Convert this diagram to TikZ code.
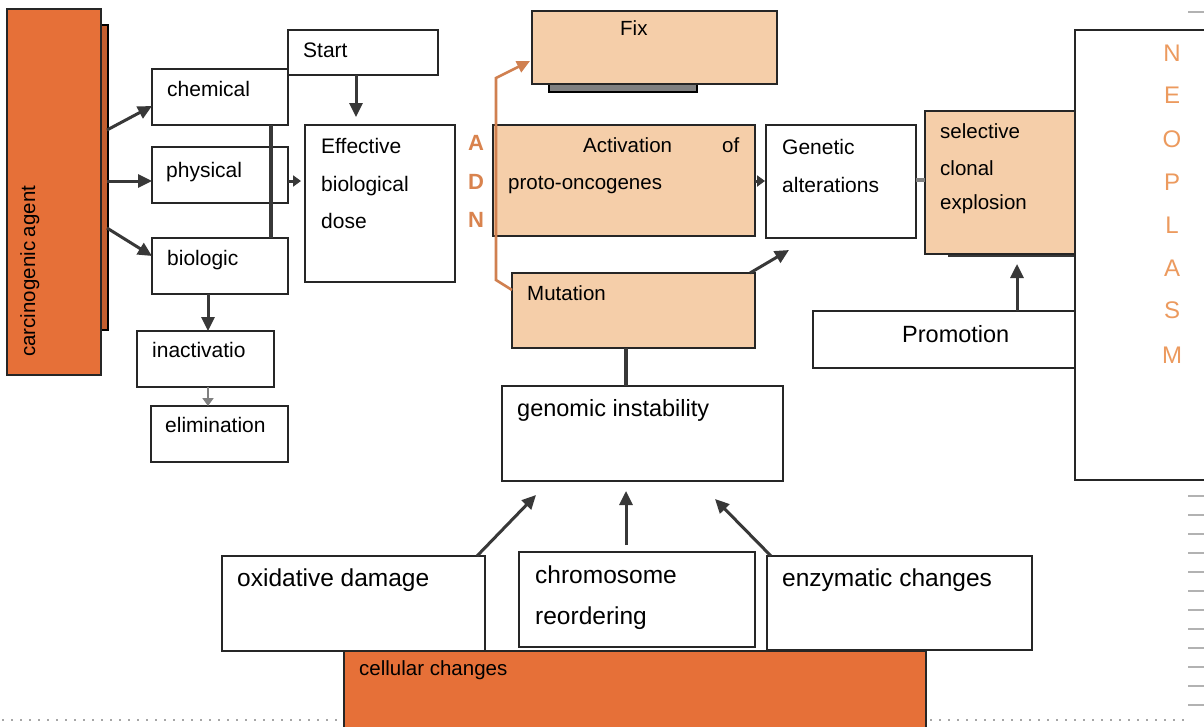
\documentclass[tikz,border=0pt]{standalone}
\usepackage{fontspec}
\setmainfont{Liberation Sans}
\usetikzlibrary{arrows.meta}
\definecolor{orng}{HTML}{E67038}
\definecolor{peach}{HTML}{F5CEA9}
\definecolor{adn}{HTML}{D9834E}
\definecolor{neo}{HTML}{EC9A5E}
\definecolor{conn}{HTML}{383838}
\definecolor{oconn}{HTML}{D08050}
\newcommand\fsz[1]{\fontsize{#1}{#1}\selectfont}
\newcommand\bx[6]{\node[#6, minimum width={#4-#2}, minimum height={#5-#3}] (#1) at ({(#2+#4)/2},{(#3+#5)/2}) {};}
\tikzset{
  box/.style={draw=black!85, line width=1.7pt, fill=white, inner sep=0pt, outer sep=0pt},
  pbox/.style={box, fill=peach},
  obox/.style={box, fill=orng},
  lbl/.style={anchor=base west, inner sep=0pt, font=\fsz{21}},
  blbl/.style={anchor=base west, inner sep=0pt, font=\fsz{24.5}},
  arr/.style={-{Triangle[length=14pt,width=13pt]}, line width=3pt, draw=conn},
  sarr/.style={-{Triangle[length=8pt,width=11pt]}, line width=3pt, draw=conn},
  ln/.style={line width=3.5pt, draw=conn},
  oarr/.style={-{Triangle[length=13pt,width=12pt]}, line width=2.6pt, draw=oconn},
}
\begin{document}
\begin{tikzpicture}[x=1pt,y=-1pt]
\clip (0,0) rectangle (1204,726);
\fill[white] (0,0) rectangle (1204,726);
% page artefacts
\draw[gray!70, line width=1.5pt, dash pattern=on 1.5pt off 7.5pt] (2,720) -- (340,720);
\draw[gray!70, line width=1.5pt, dash pattern=on 1.5pt off 7.5pt] (930,720) -- (1190,720);
\foreach \yy in {496,515,534,553,572,591,610,629,648,667,686,705}{
  \draw[gray!60, line width=1.2pt] (1188,\yy) -- (1204,\yy);}
\draw[gray!60, line width=1.2pt] (1188,12) -- (1204,12);
% shadows
\draw[line width=1.6pt, fill=orng!85!black] (13,25) rectangle (108,330);
\draw[line width=1.6pt, fill=gray] (549,84) rectangle (697,92);
\draw[line width=2pt, conn] (948,256) -- (1075,256);
% boxes
\bx{agent}{7}{9}{101}{375}{obox}
\bx{neoplasm}{1075}{30}{1230}{480}{box}
\bx{chem}{152}{69}{288}{125}{box}
\bx{phys}{152}{147}{288}{203}{box}
\bx{bio}{152}{238}{288}{294}{box}
\bx{start}{288}{30}{438}{75}{box}
\bx{eff}{305}{125}{455}{282}{box}
\bx{inact}{137}{331}{274}{387}{box}
\bx{elim}{151}{406}{288}{462}{box}
\bx{fix}{532}{11}{777}{84}{pbox}
\bx{act}{493}{125}{755}{236}{pbox}
\bx{gen}{766}{125}{916}{238}{box}
\bx{sel}{925}{111}{1075}{254}{pbox}
\bx{prom}{813}{311}{1075}{368}{box}
\bx{mut}{512}{273}{755}{348}{pbox}
\bx{geno}{502}{386}{783}{481}{box}
\bx{oxi}{222}{556}{485}{651}{box}
\bx{chrom}{519}{552}{755}{647}{box}
\bx{enz}{767}{556}{1032}{650}{box}
\bx{cell}{344}{651}{926}{740}{obox}
% texts
\node[anchor=base west, inner sep=0pt, font=\fsz{20.5}, rotate=90] (tagent) at (35,357) {carcinogenic\kern-1pt\ agent};
\node[lbl] (tchem) at (167,96) {chemical};
\node[lbl] (tphys) at (166,177) {physical};
\node[lbl] (tbio) at (167,265) {biologic};
\node[lbl] (tstart) at (303,57) {Start};
\node[lbl] (teff1) at (321,153) {Effective};
\node[lbl] (teff2) at (321,191) {biological};
\node[lbl] (teff3) at (321,228) {dose};
\node[lbl] (tinact) at (152,357) {inactivatio};
\node[lbl] (telim) at (165,432) {elimination};
\node[anchor=base, inner sep=0pt, font=\fsz{22}\bfseries, text=adn] (ta) at (476,150) {A};
\node[anchor=base, inner sep=0pt, font=\fsz{22}\bfseries, text=adn] (td) at (476,189) {D};
\node[anchor=base, inner sep=0pt, font=\fsz{22}\bfseries, text=adn] (tn) at (476,227) {N};
\node[lbl, font=\fsz{20.5}] (tfix) at (620,35) {Fix};
\node[lbl, font=\fsz{20.5}] (tact1) at (583,152) {Activation};
\node[lbl, font=\fsz{20.5}] (tact2) at (722,152) {of};
\node[lbl, font=\fsz{20.5}] (tact3) at (508,189) {proto-oncogenes};
\node[lbl] (tgen1) at (782,154) {Genetic};
\node[lbl] (tgen2) at (782,192) {alterations};
\node[lbl, font=\fsz{20.5}] (tsel1) at (940,138) {selective};
\node[lbl, font=\fsz{20.5}] (tsel2) at (940,175) {clonal};
\node[lbl, font=\fsz{20.5}] (tsel3) at (940,209) {explosion};
\foreach \L/\yy [count=\i] in {N/61,E/103,O/147,P/190,L/233,A/276,S/318,M/363}{
  \node[anchor=base, inner sep=0pt, font=\fsz{24}, text=neo] (tneo\i) at (1172,\yy) {\L};}
\node[blbl, font=\fsz{23.5}] (tprom) at (902,342) {Promotion};
\node[lbl, font=\fsz{20.5}] (tmut) at (527,300) {Mutation};
\node[blbl, font=\fsz{23.5}] (tgeno) at (517,416) {genomic instability};
\node[blbl] (toxi) at (237,586) {oxidative damage};
\node[blbl] (tchrom1) at (535,583) {chromosome};
\node[blbl] (tchrom2) at (535,624) {reordering};
\node[blbl] (tenz) at (782,586) {enzymatic changes};
\node[lbl, font=\fsz{20.5}] (tcell) at (359,675) {cellular changes};
% connector end points
\coordinate (a1) at (107,130); \coordinate (c1) at (152,106);
\coordinate (a2) at (107,181); \coordinate (c2) at (152,181);
\coordinate (a3) at (107,228); \coordinate (c3) at (152,256);
\coordinate (v1) at (271,125); \coordinate (v2) at (271,238);
\coordinate (p1) at (288,181); \coordinate (e1) at (301,181);
\coordinate (s1) at (356,75); \coordinate (e2) at (356,117);
\coordinate (b1) at (208,294); \coordinate (i1) at (208,331);
\coordinate (i2) at (208,387); \coordinate (l1) at (208,406);
\coordinate (m1) at (512,290); \coordinate (o1) at (496,280); \coordinate (o2) at (496,78); \coordinate (f1) at (530,61);
\coordinate (ac1) at (755,181); \coordinate (g1) at (765,181);
\coordinate (g2) at (916,180); \coordinate (se1) at (925,180);
\coordinate (m2) at (750,273); \coordinate (g3) at (789,250);
\coordinate (pr1) at (1017,311); \coordinate (se2) at (1017,264);
\coordinate (gi1) at (626,386); \coordinate (m3) at (626,348);
\coordinate (ox1) at (477,556); \coordinate (gi2) at (536,495);
\coordinate (ch1) at (626,545); \coordinate (gi3) at (626,491);
\coordinate (en1) at (771,556); \coordinate (gi4) at (715,499);
% connectors
\draw[arr] (a1) -- (c1);
\draw[arr] (a2) -- (c2);
\draw[arr] (a3) -- (c3);
\draw[ln] (v1) -- (v2);
\draw[sarr] (p1) -- (e1);
\draw[arr] (s1) -- (e2);
\draw[arr] (b1) -- (i1);
\draw[sarr, line width=2.4pt, draw=gray] (i2) -- (l1);
\draw[oarr] (m1) -- (o1) -- (o2) -- (f1);
\draw[sarr] (ac1) -- (g1);
\draw[ln, draw=gray] (g2) -- (se1);
\draw[arr] (m2) -- (g3);
\draw[arr] (pr1) -- (se2);
\draw[ln] (gi1) -- (m3);
\draw[arr] (ox1) -- (gi2);
\draw[arr] (ch1) -- (gi3);
\draw[arr] (en1) -- (gi4);
\end{tikzpicture}
\end{document}
